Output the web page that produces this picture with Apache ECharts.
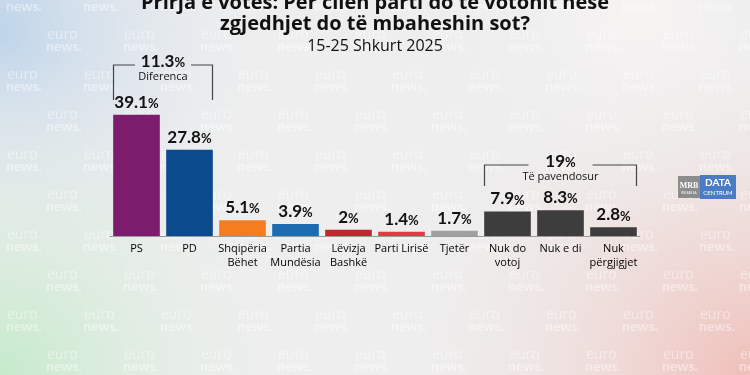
<!DOCTYPE html>
<html>
<head>
<meta charset="utf-8">
<script src="https://cdn.jsdelivr.net/npm/echarts@6/dist/echarts.min.js"></script>
<style>
  html, body { margin: 0; padding: 0; }
  #main { width: 750px; height: 375px; }
</style>
</head>
<body>
<div id="main"></div>
<script>
var categories = ['PS', 'PD', 'Shqipëria\nBëhet', 'Partia\nMundësia', 'Lëvizja\nBashkë', 'Parti Lirisë', 'Tjetër', 'Nuk do\nvotoj', 'Nuk e di', 'Nuk\npërgjigjet'];
var values = [39.1, 27.8, 5.1, 3.9, 2, 1.4, 1.7, 7.9, 8.3, 2.8];
var barColors = ['#7b1c6c', '#0c4a8e', '#f57c1f', '#1e6cb0', '#c1272d', '#e23a40', '#a0a0a0', '#3d3d3d', '#3d3d3d', '#3d3d3d'];
var diffLabel = ['11.3%', 'Diferenca'];
var undecidedLabel = ['19%', 'Të pavendosur'];

var chart = echarts.init(document.getElementById('main'));
var font = 'Lato, "Open Sans", sans-serif';
var titleFont = '"Open Sans", sans-serif';

var option = {
  backgroundColor: '#eeeeee',
  grid: { left: 110, right: 110, top: 81, bottom: 139 },
  xAxis: {
    type: 'category',
    data: categories,
    axisTick: { show: false },
    axisLine: { lineStyle: { color: '#9a9a9a', width: 1 } },
    axisLabel: { interval: 0, color: '#000', fontSize: 11, fontFamily: titleFont, fontWeight: 500, lineHeight: 14, margin: 6 }
  },
  yAxis: { type: 'value', min: 0, max: 50, show: false },
  series: [{
    type: 'bar',
    barCategoryGap: '12%',
    z: 5,
    data: values.map(function (v, i) { return { value: v, itemStyle: { color: barColors[i] } }; }),
    label: {
      show: true,
      position: 'top',
      distance: 4,
      formatter: function (p) { return '{v|' + p.value + '}{p|%}'; },
      rich: {
        v: { fontSize: 17, fontWeight: 'bold', color: '#111', fontFamily: font },
        p: { fontSize: 13, fontWeight: 'bold', color: '#111', fontFamily: font, padding: [3, 0, 0, 0] }
      }
    }
  }]
};
chart.setOption(option);

// soft background tints
function glow(cx, cy, r, color) {
  return { type: 'circle', z: -10, silent: true, shape: { cx: cx, cy: cy, r: r },
    style: { fill: { type: 'radial', x: 0.5, y: 0.5, r: 0.5,
      colorStops: [{ offset: 0, color: color }, { offset: 1, color: 'rgba(238,238,238,0)' }] } } };
}
var bg = [
  glow(0, 30, 300, 'rgba(190,212,234,1)'),
  glow(0, 375, 320, 'rgba(196,234,202,1)'),
  glow(750, 375, 380, 'rgba(240,190,184,1)'),
  glow(640, 10, 220, 'rgba(248,244,244,0.9)')
];

// watermark pattern
var marks = [];
for (var row = 0; row < 10; row++) {
  var y = -12 + row * 40;
  var off = (row % 2) ? 52 : 12;
  for (var col = 0; col < 11; col++) {
    var x = off + col * 77 - 6;
    marks.push({ type: 'text', z: -5, silent: true, x: x + 1, y: y,
      style: { text: 'euro', fontSize: 14, fill: 'rgba(255,255,255,0.45)', fontFamily: '"Open Sans", sans-serif', fontWeight: 'normal' } });
    marks.push({ type: 'text', z: -5, silent: true, x: x, y: y + 11,
      style: { text: 'news.', fontSize: 14, fill: 'rgba(255,255,255,0.45)', fontFamily: font, fontWeight: 'bold' } });
  }
}

function bracket(i0, i1, yTop, yBot, text, gapHalf) {
  var a = chart.convertToPixel({ seriesIndex: 0 }, [i0, 0]);
  var b = chart.convertToPixel({ seriesIndex: 0 }, [i1, 0]);
  var half = 23;
  var x0 = a[0] - half, x1 = b[0] + half, cx = (x0 + x1) / 2;
  var st = { stroke: '#444', lineWidth: 1.2, fill: null };
  return [
    { type: 'polyline', shape: { points: [[x0, yBot], [x0, yTop], [cx - gapHalf, yTop]] }, style: st },
    { type: 'polyline', shape: { points: [[cx + gapHalf, yTop], [x1, yTop], [x1, yBot]] }, style: st },
    { type: 'text', x: cx, y: yTop - 12, style: { text: '{v|' + text[0].replace('%', '') + '}{p|%}', align: 'center',
      rich: { v: { fontSize: 17, fontWeight: 'bold', fill: '#111', fontFamily: font }, p: { fontSize: 13, fontWeight: 'bold', fill: '#111', fontFamily: font, padding: [3, 0, 0, 0] } } } },
    { type: 'text', x: cx, y: yTop + 6, style: { text: text[1], align: 'center', fontSize: 11, fontWeight: 500, fill: '#111', fontFamily: titleFont } }
  ];
}

var titles = [
  { type: 'text', left: 'center', top: -7, style: { text: 'Prirja e votës: Për cilën parti do të votonit nëse', fontSize: 20, fontWeight: 'bold', fill: '#111', fontFamily: titleFont } },
  { type: 'text', left: 'center', top: 14, style: { text: 'zgjedhjet do të mbaheshin sot?', fontSize: 20, fontWeight: 'bold', fill: '#111', fontFamily: titleFont } },
  { type: 'text', left: 'center', top: 38, style: { text: '15-25 Shkurt 2025', fontSize: 16, fill: '#111', fontFamily: titleFont } }
];

var logo = [
  { type: 'rect', shape: { x: 678, y: 176, width: 22, height: 22 }, style: { fill: '#8c8c8c' } },
  { type: 'text', x: 689, y: 182, style: { text: 'MRB', align: 'center', fontSize: 8, fontWeight: 'bold', fill: '#fff', fontFamily: 'serif' } },
  { type: 'text', x: 689, y: 192, style: { text: 'RELEAS SA', align: 'center', fontSize: 3, fill: '#fff', fontFamily: font } },
  { type: 'rect', shape: { x: 700, y: 175, width: 36, height: 24 }, style: { fill: '#4a7cc6' } },
  { type: 'text', x: 718, y: 178, style: { text: 'DATA', align: 'center', fontSize: 10, fontWeight: 'bold', fill: '#fff', fontFamily: font } },
  { type: 'text', x: 718, y: 190, style: { text: 'CENTRUM', align: 'center', fontSize: 6, fill: '#fff', fontFamily: font } }
];

chart.setOption({
  graphic: bg.concat(marks, titles,
    bracket(0, 1, 65, 100, diffLabel, 28),
    bracket(7, 9, 165, 186, undecidedLabel, 32),
    logo)
});
</script>
</body>
</html>
